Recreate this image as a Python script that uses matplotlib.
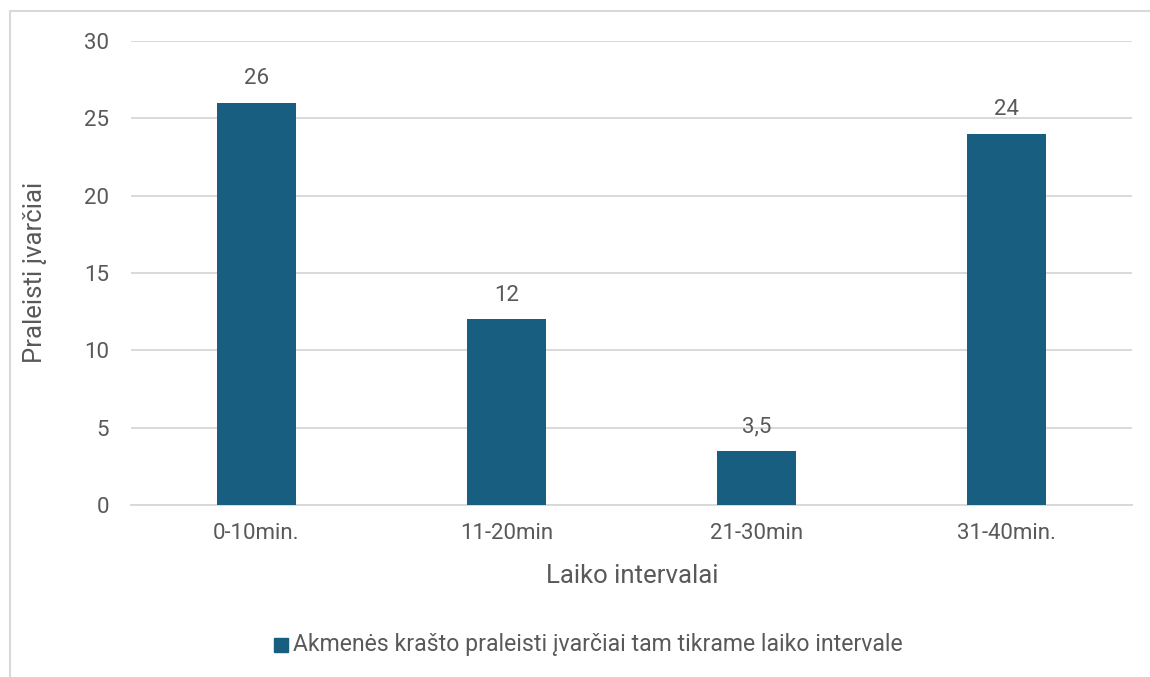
import matplotlib.pyplot as plt
from matplotlib.patches import Rectangle

categories = ["0-10min.", "11-20min", "21-30min", "31-40min."]
values = [26, 12, 3.5, 24]
value_labels = ["26", "12", "3,5", "24"]
y_ticks = [0, 5, 10, 15, 20, 25, 30]
series_name = "Akmenės krašto praleisti įvarčiai tam tikrame laiko intervale"

BAR = "#175e80"
TXT = "#595959"
GRID = "#d9d9d9"

plt.rcParams['font.family'] = ['Roboto', 'DejaVu Sans']

W, H = 1150, 677
fig = plt.figure(figsize=(W / 100, H / 100), dpi=100)

# outer chart border
fig.patches.append(Rectangle((10 / W, -0.1), 1.2, (H - 11) / H + 0.1,
                             transform=fig.transFigure, fill=False,
                             edgecolor="#d9d9d9", linewidth=1.5))

ax = fig.add_axes([131 / W, 1 - 505 / H, (1132 - 131) / W, (505 - 41) / H])
x = range(len(categories))
ax.bar(x, values, width=0.315, color=BAR, zorder=3)
ax.set_xlim(-0.5, len(categories) - 0.5)
ax.set_ylim(0, 30)
ax.set_yticks(y_ticks)
ax.set_xticks(list(x))
ax.set_xticklabels(categories)
ax.yaxis.grid(True, color=GRID, linewidth=1.4)
ax.set_axisbelow(True)
for s in ["top", "right", "left"]:
    ax.spines[s].set_visible(False)
ax.spines["bottom"].set_color(GRID)
ax.spines["bottom"].set_linewidth(1.4)
ax.tick_params(axis="both", length=0, labelsize=16, colors=TXT)
ax.tick_params(axis="y", pad=16)
ax.tick_params(axis="x", pad=13)

for xi, v, lab in zip(x, values, value_labels):
    ax.annotate(lab, (xi, v), xytext=(0, 10), textcoords="offset points",
                ha="center", va="bottom", fontsize=16, color=TXT)

fig.text(632 / W, 1 - 576 / H, "Laiko intervalai", ha="center", va="center",
         fontsize=18.5, color=TXT)
fig.text(35 / W, 1 - 272 / H, "Praleisti įvarčiai", ha="center", va="center",
         rotation=90, fontsize=18.5, color=TXT)

# legend
fig.patches.append(Rectangle((274 / W, 1 - 652 / H), 14 / W, 14 / H,
                             transform=fig.transFigure, color=BAR))
fig.text(293 / W, 1 - 645 / H, series_name, ha="left", va="center",
         fontsize=16.6, color=TXT)

fig.savefig("out.png", dpi=100)
